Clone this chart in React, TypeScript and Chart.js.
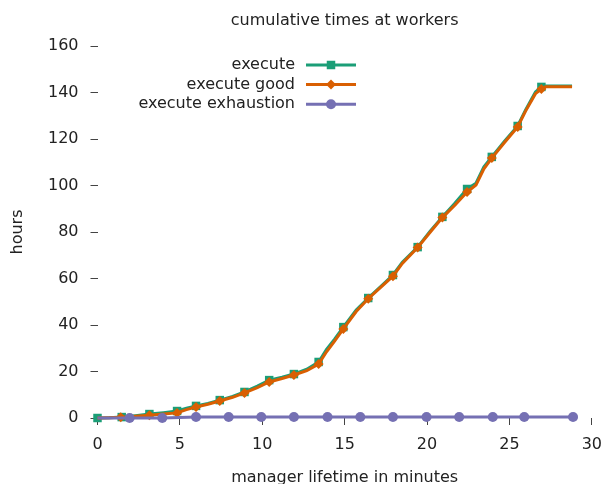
import { useEffect, useRef } from 'react';
import { Chart, registerables } from 'chart.js';

Chart.register(...registerables);

const chartTitle = 'cumulative times at workers';
const xAxisTitle = 'manager lifetime in minutes';
const yAxisTitle = 'hours';
const seriesNames = ['execute', 'execute good', 'execute exhaustion'];
const xTickValues = [0, 5, 10, 15, 20, 25, 30];
const yTickValues = [0, 20, 40, 60, 80, 100, 120, 140, 160];

// "execute" – full line path
const executeMinutes = [0, 0.7, 1.47, 2.3, 3.15, 4.0, 4.83, 5.4, 5.98, 6.7, 7.42, 8.2, 8.92, 9.7, 10.42, 11.2, 11.92, 12.7, 13.42, 13.9, 14.4, 14.92, 15.7, 16.43, 17.1, 17.93, 18.5, 19.43, 20.2, 20.93, 21.7, 22.43, 22.97, 23.45, 23.93, 24.7, 25.5, 25.98, 26.58, 26.94, 27.2, 28.8];
const executeHours = [0, 0.1, 0.4, 1.0, 1.7, 2.3, 3.0, 4.2, 5.2, 6.3, 7.7, 9.3, 11.2, 13.7, 16.3, 17.5, 18.9, 21.0, 24.1, 29.5, 34.0, 39.1, 46.5, 51.6, 56.0, 61.5, 67.0, 73.5, 80.5, 86.5, 92.5, 98.5, 101.0, 108.0, 112.3, 119.0, 125.6, 132.5, 140.2, 142.4, 142.8, 142.8];
// "execute" – sampled marker points
const executeMarkMinutes = [0, 1.47, 3.15, 4.83, 5.98, 7.42, 8.92, 10.42, 11.92, 13.42, 14.92, 16.43, 17.93, 19.43, 20.93, 22.43, 23.93, 25.5, 26.94];
const executeMarkHours = [0, 0.4, 1.7, 3.0, 5.2, 7.7, 11.2, 16.3, 18.9, 24.1, 39.1, 51.6, 61.5, 73.5, 86.5, 98.5, 112.3, 125.6, 142.4];

// "execute good" – full line path
const goodMinutes = [0, 0.7, 1.41, 2.3, 3.15, 4.0, 4.83, 5.4, 5.98, 6.7, 7.42, 8.2, 8.92, 9.7, 10.42, 11.2, 11.92, 12.7, 13.42, 13.9, 14.4, 14.92, 15.7, 16.43, 17.1, 17.93, 18.5, 19.43, 20.2, 20.93, 21.7, 22.43, 22.97, 23.45, 23.93, 24.7, 25.5, 25.98, 26.58, 26.94, 27.2, 28.8];
const goodHours = [0, 0.1, 0.3, 0.8, 1.2, 1.7, 2.2, 3.6, 4.7, 5.9, 7.3, 8.9, 10.8, 13.1, 15.5, 17.0, 18.5, 20.4, 23.2, 28.5, 33.2, 38.3, 45.8, 51.3, 55.6, 61.0, 66.5, 73.3, 80.0, 86.2, 91.6, 97.2, 100.2, 107.2, 111.8, 118.5, 125.2, 132.0, 139.5, 141.5, 142.5, 142.5];
// "execute good" – sampled marker points
const goodMarkMinutes = [1.41, 3.15, 4.83, 5.98, 7.42, 8.92, 10.42, 11.92, 13.42, 14.92, 16.43, 17.93, 19.43, 20.93, 22.43, 23.93, 25.5, 26.94];
const goodMarkHours = [0.3, 1.2, 2.2, 4.7, 7.3, 10.8, 15.5, 18.5, 23.2, 38.3, 51.3, 61.0, 73.3, 86.2, 97.2, 111.8, 125.2, 141.5];

// "execute exhaustion" – full line path
const exhaustionMinutes = [0, 1.95, 3.93, 5.98, 7.96, 9.94, 11.92, 13.96, 15.95, 17.93, 19.97, 21.95, 23.99, 25.9, 28.86];
const exhaustionHours = [0, 0, 0, 0.4, 0.4, 0.4, 0.4, 0.4, 0.4, 0.4, 0.4, 0.4, 0.4, 0.4, 0.4];
// "execute exhaustion" – sampled marker points
const exhaustionMarkMinutes = [1.95, 3.93, 5.98, 7.96, 9.94, 11.92, 13.96, 15.95, 17.93, 19.97, 21.95, 23.99, 25.9, 28.86];
const exhaustionMarkHours = [0, 0, 0.4, 0.4, 0.4, 0.4, 0.4, 0.4, 0.4, 0.4, 0.4, 0.4, 0.4, 0.4];

const GREEN = '#1b9e77';
const ORANGE = '#d95f02';
const PURPLE = '#7570b3';
const TEXT = '#222222';
const FONT = '"DejaVu Sans", sans-serif';

const pts = (xs: number[], ys: number[]) => xs.map((x, i) => ({ x, y: ys[i] }));

const legendStyles = [
  { color: GREEN, shape: 'rect' },
  { color: ORANGE, shape: 'diamond' },
  { color: PURPLE, shape: 'circle' },
];

function drawMarker(ctx: CanvasRenderingContext2D, shape: string, x: number, y: number, color: string) {
  ctx.fillStyle = color;
  ctx.beginPath();
  if (shape === 'rect') {
    ctx.rect(x - 4.25, y - 4.25, 8.5, 8.5);
  } else if (shape === 'diamond') {
    ctx.moveTo(x, y - 5);
    ctx.lineTo(x + 5, y);
    ctx.lineTo(x, y + 5);
    ctx.lineTo(x - 5, y);
    ctx.closePath();
  } else {
    ctx.arc(x, y, 5, 0, Math.PI * 2);
  }
  ctx.fill();
}

const overlayPlugin = {
  id: 'overlay',
  afterDraw(chart: any) {
    const { ctx, chartArea } = chart;
    ctx.save();
    ctx.fillStyle = TEXT;
    ctx.font = `16px ${FONT}`;
    ctx.textAlign = 'center';
    ctx.textBaseline = 'alphabetic';
    ctx.fillText(chartTitle, (chartArea.left + chartArea.right) / 2, 25);

    // legend: text right-aligned, sample to the right
    const textRight = 295;
    const lineStart = 306;
    const lineEnd = 356;
    const rowTop = 65;
    const rowStep = 19.6;
    seriesNames.forEach((name, i) => {
      const y = rowTop + i * rowStep;
      const st = legendStyles[i];
      ctx.fillStyle = TEXT;
      ctx.textAlign = 'right';
      ctx.textBaseline = 'middle';
      ctx.fillText(name, textRight, y);
      ctx.strokeStyle = st.color;
      ctx.lineWidth = 3;
      ctx.beginPath();
      ctx.moveTo(lineStart, y);
      ctx.lineTo(lineEnd, y);
      ctx.stroke();
      drawMarker(ctx, st.shape, (lineStart + lineEnd) / 2, y, st.color);
    });
    ctx.restore();
  },
};

export default function App() {
  const canvasRef = useRef<HTMLCanvasElement | null>(null);

  useEffect(() => {
    if (!canvasRef.current) return;
    const lineBase = { showLine: true, borderWidth: 3, pointRadius: 0, pointHoverRadius: 0, clip: false as any, tension: 0 };
    const markBase = { showLine: false, borderWidth: 0, clip: false as any };
    const chart = new Chart(canvasRef.current, {
      type: 'scatter',
      data: {
        datasets: [
          { ...lineBase, label: seriesNames[0], data: pts(executeMinutes, executeHours), borderColor: GREEN, backgroundColor: GREEN, order: 6 },
          { ...markBase, label: seriesNames[0], data: pts(executeMarkMinutes, executeMarkHours), pointStyle: 'rect', pointRadius: 6, backgroundColor: GREEN, borderColor: GREEN, order: 5 },
          { ...lineBase, label: seriesNames[1], data: pts(goodMinutes, goodHours), borderColor: ORANGE, backgroundColor: ORANGE, order: 4 },
          { ...markBase, label: seriesNames[1], data: pts(goodMarkMinutes, goodMarkHours), pointStyle: 'rectRot', pointRadius: 5, backgroundColor: ORANGE, borderColor: ORANGE, order: 3 },
          { ...lineBase, label: seriesNames[2], data: pts(exhaustionMinutes, exhaustionHours), borderColor: PURPLE, backgroundColor: PURPLE, order: 2 },
          { ...markBase, label: seriesNames[2], data: pts(exhaustionMarkMinutes, exhaustionMarkHours), pointStyle: 'circle', pointRadius: 5, backgroundColor: PURPLE, borderColor: PURPLE, order: 1 },
        ] as any,
      },
      options: {
        animation: false,
        responsive: false,
        maintainAspectRatio: false,
        layout: { padding: { top: 46, right: 15, left: 0, bottom: 0 } },
        plugins: {
          legend: { display: false },
          title: { display: false },
          tooltip: { enabled: false },
        },
        scales: {
          x: {
            type: 'linear',
            min: 0,
            max: 30,
            afterBuildTicks: (s: any) => { s.ticks = xTickValues.map((v) => ({ value: v })); },
            afterFit: (s: any) => { s.height = 66; },
            ticks: { color: TEXT, font: { family: FONT, size: 16 }, padding: 10, maxRotation: 0 },
            grid: { drawOnChartArea: false, drawTicks: true, tickLength: 7, color: '#444', lineWidth: 1 },
            border: { display: false },
            title: { display: true, text: xAxisTitle, color: TEXT, font: { family: FONT, size: 16, lineHeight: 1 }, padding: { top: 0, bottom: -2 } },
          },
          y: {
            type: 'linear',
            min: 0,
            max: 160,
            afterBuildTicks: (s: any) => { s.ticks = yTickValues.map((v) => ({ value: v })); },
            afterFit: (s: any) => { s.width = 97.5; },
            ticks: { color: TEXT, font: { family: FONT, size: 16 }, padding: 12 },
            grid: { drawOnChartArea: false, drawTicks: true, tickLength: 7, color: '#444', lineWidth: 1 },
            border: { display: false },
            title: { display: true, text: yAxisTitle, color: TEXT, font: { family: FONT, size: 16 }, padding: { top: 8, bottom: 0 } },
          },
        },
      } as any,
      plugins: [overlayPlugin],
    });
    return () => chart.destroy();
  }, []);

  return (
    <div style={{ position: 'fixed', left: 0, top: 0, width: 612, height: 484, background: '#fff' }}>
      <canvas ref={canvasRef} width={612} height={484} style={{ display: 'block' }} />
    </div>
  );
}
